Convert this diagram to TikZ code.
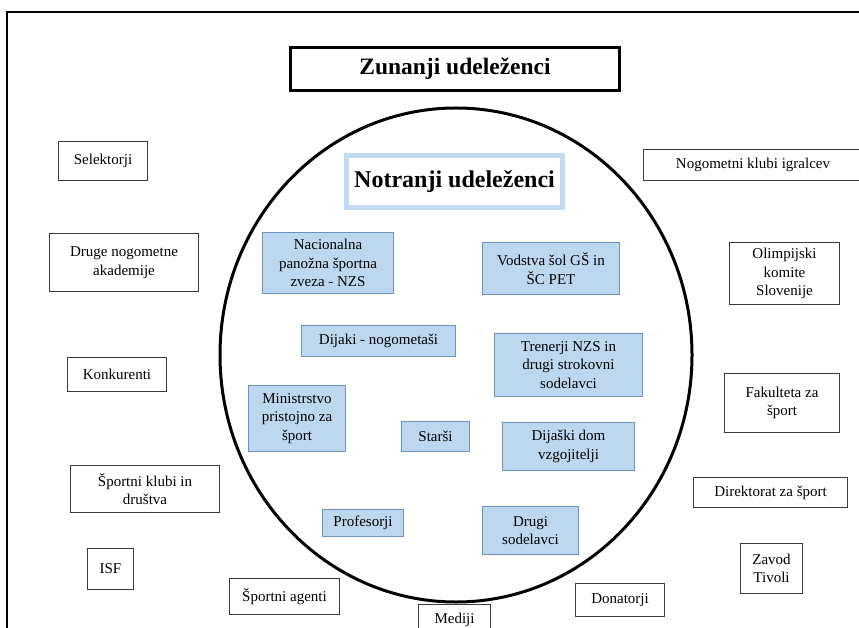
\documentclass[tikz,border=0pt]{standalone}
\usepackage{fontspec}
\setmainfont{Liberation Serif}
\usetikzlibrary{positioning}
\definecolor{boxblue}{HTML}{BDD7EE}
\definecolor{boxedge}{HTML}{6D93C3}
\definecolor{titleblue}{HTML}{C3DAF0}
\definecolor{edgegray}{HTML}{3A3A3A}
\tikzset{
  wh/.style 2 args={minimum width=#1pt,minimum height=#2pt},
  extbox/.style={draw=edgegray,line width=1.2pt,fill=white,align=center,
    inner sep=0pt,font=\fontsize{15}{18.5}\selectfont},
  intbox/.style={draw=boxedge,line width=1.3pt,fill=boxblue,align=center,
    inner sep=0pt,font=\fontsize{15}{18.5}\selectfont},
}

\begin{document}
\begin{tikzpicture}[x=1pt,y=-1pt]
\useasboundingbox (0,0) rectangle (859,628);
% frame, cut at right and bottom
\draw[line width=1.3pt] (7,640) -- (7,12) -- (870,12);

\node[draw,line width=3pt,inner sep=0pt,wh={329}{43},
  font=\bfseries\fontsize{23.5}{27}\selectfont] (zun) at (455,69) {Zunanji udeleženci};

\draw[line width=3pt] (456,355) ellipse[x radius=236pt,y radius=247pt];

\node[draw=titleblue,line width=5pt,fill=white,inner sep=0pt,wh={216}{52},
  font=\bfseries\fontsize{24}{28}\selectfont] (notr) at (454.5,181.5) {Notranji udeleženci};

% notranji udelezenci
\node[intbox,wh={131}{61}] (nzs) at (328,263) {Nacionalna\\panožna športna\\zveza - NZS};
\node[intbox,wh={137}{52}] (vodstva) at (551,268.5) {Vodstva šol GŠ in\\ŠC PET};
\node[intbox,wh={154}{31}] (dijaki) at (378.5,341) {Dijaki - nogometaši};
\node[intbox,wh={148}{63}] (trenerji) at (568.5,365) {Trenerji NZS in\\drugi strokovni\\sodelavci};
\node[intbox,wh={97}{66}] (minis) at (297,418.5) {Ministrstvo\\pristojno za\\šport};
\node[intbox,wh={68}{30}] (starsi) at (435.5,436.5) {Starši};
\node[intbox,wh={132}{48}] (dom) at (568.5,446.5) {Dijaški dom\\vzgojitelji};
\node[intbox,wh={81}{27}] (prof) at (363,523) {Profesorji};
\node[intbox,wh={96}{48}] (drugi) at (530.5,530.5) {Drugi\\sodelavci};

% zunanji udelezenci
\node[extbox,wh={89}{39}] (sel) at (103,161) {Selektorji};
\node[extbox,wh={149}{58}] (akad) at (124,262.5) {Druge nogometne\\akademije};
\node[extbox,wh={99}{34}] (konk) at (117,374.5) {Konkurenti};
\node[extbox,wh={149}{47}] (klubi) at (145,489) {Športni klubi in\\društva};
\node[extbox,wh={46}{41}] (isf) at (110.5,569) {ISF};
\node[extbox,wh={110}{36}] (agenti) at (284.5,596.5) {Športni agenti};
\node[extbox,wh={72}{31}] (mediji) at (454.5,620) {Mediji};
\node[extbox,wh={89}{33}] (donat) at (620,600) {Donatorji};
\node[extbox,wh={62}{50}] (tivoli) at (771.5,568.5) {Zavod\\Tivoli};
\node[extbox,wh={154}{30}] (direkt) at (770.5,492.5) {Direktorat za šport};
\node[extbox,wh={115}{59}] (fakult) at (782,403) {Fakulteta za\\šport};
\node[extbox,wh={110}{62}] (olimp) at (784.5,273.5) {Olimpijski\\komite\\Slovenije};
\node[extbox,wh={219}{31}] (nogkl) at (753,165) {Nogometni klubi igralcev};
\end{tikzpicture}
\end{document}
